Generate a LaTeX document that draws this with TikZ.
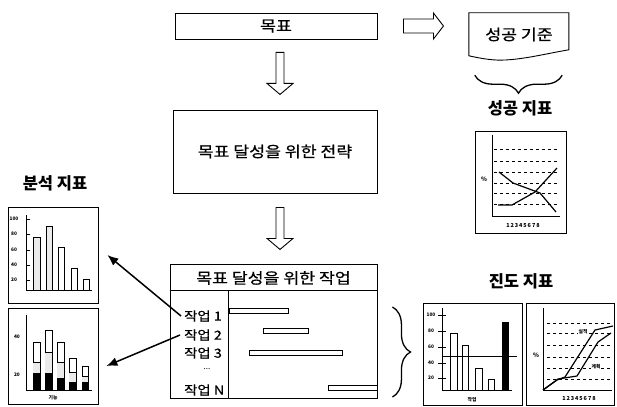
\documentclass[tikz,border=0pt]{standalone}
\usepackage{fontspec}
\setmainfont{Noto Sans CJK KR}
\newfontfamily\boxfont{Noto Sans CJK KR}[FakeStretch=1.15, FakeBold=0.6]
\usetikzlibrary{calc,decorations.pathreplacing,arrows.meta}
\newcommand\fsz[1]{\fontsize{#1}{#1}\selectfont}

\begin{document}
\begin{tikzpicture}[x=1pt,y=-1pt,
  frame/.style={draw, line width=0.9pt, inner sep=0pt},
  chartbox/.style={draw, line width=0.8pt, inner sep=0pt},
  boxtext/.style={font=\boxfont\fsz{15}},
  item/.style={font=\boxfont\fsz{12.5}, anchor=west, inner sep=0pt},
  title/.style={font=\bfseries\fsz{16.5}, inner sep=0pt},
  tiny/.style={font=\bfseries\fsz{4.8}, inner sep=0pt},
  axis/.style={line width=0.7pt},
  bar/.style={draw, line width=0.7pt, fill=white},
  darkbar/.style={draw, line width=0.7pt, fill=black},
  ganttbar/.style={draw, line width=0.8pt, fill=white},
  gridline/.style={line width=0.6pt, dash pattern=on 3pt off 3pt},
  curve/.style={line width=1.2pt},
  leftarr/.style={line width=1.5pt, -{Latex[length=11pt,width=9pt]}},
  bracestyle/.style={decorate, decoration={brace, amplitude=18pt}, line width=1.3pt},
  downblock/.pic={\draw[line width=0.9pt, fill=white]
     (-4,0) -- (4,0) -- (4,31) -- (13,31) -- (0,42) -- (-13,31) -- (-4,31) -- cycle;},
  rightblock/.pic={\draw[line width=0.9pt, fill=white]
     (0,-7) -- (30,-7) -- (30,-13) -- (40,0) -- (30,13) -- (30,7) -- (0,7) -- cycle;},
]
\useasboundingbox (0,0) rectangle (617,406);

% ---------- main flow ----------
\node[frame, boxtext, minimum width=202pt, minimum height=26pt] (goal) at (276,26) {목표};
\node[frame, boxtext, minimum width=204pt, minimum height=83pt] (strat) at (275,151.5) {목표 달성을 위한 전략};
\node[frame, minimum width=207pt, minimum height=134pt] (work) at (273.5,331) {};
\node[boxtext, inner sep=0pt] (worktitle) at (273.5,278) {목표 달성을 위한 작업};
\draw[line width=0.9pt] ($(work.north west)+(0,27)$) -- ($(work.north east)+(0,27)$);
\draw[line width=0.9pt] ($(work.north west)+(59,27)$) -- ($(work.south west)+(59,0)$);

\pic at ($(goal.south)+(4,13)$) {downblock};
\pic at ($(strat.south)+(5,14)$) {downblock};

% task list
\node[item] (t1) at (184,316) {작업 1};
\node[item] (t2) at (184,335) {작업 2};
\node[item] (t3) at (184,353) {작업 3};
\node[font=\fsz{8}, inner sep=0pt] (tdots) at (207,369) {...};
\node[item] (tN) at (184,390) {작업 N};

% schedule bars
\draw[ganttbar] (229,308) rectangle (288,313);
\draw[ganttbar] (263,328) rectangle (308,333);
\draw[ganttbar] (249,350) rectangle (342,355);
\draw[ganttbar] (328,385) rectangle (377,390);

% ---------- success criteria ----------
\node[inner sep=0pt, minimum width=100pt, minimum height=43pt, boxtext] (crit) at (519,34.5) {성공 기준};
\begin{scope}[shift={(crit.north west)}]
  \draw[line width=0.9pt] (0,0) -- (100,0) -- (100,37)
     .. controls (76,41) and (46,49) .. (24,47)
     .. controls (13,46) and (5,44) .. (0,43) -- cycle;
\end{scope}
\pic at ($(goal.east)+(26,0)$) {rightblock};
\draw[bracestyle] ($(crit.south east)+(-7,19)$) -- ($(crit.south west)+(6,19)$);
\draw[bracestyle] ($(work.east)+(15,-24)$) -- ($(work.east)+(15,66)$);

% ---------- titles ----------
\node[title] (ttlA) at (55,183) {분석 지표};
\node[title] (ttlS) at (520,108) {성공 지표};
\node[title] (ttlP) at (521,281) {진도 지표};

% ---------- chart frames ----------
\node[chartbox, minimum width=90pt, minimum height=96pt] (ana1) at (53,255) {};
\node[chartbox, minimum width=90pt, minimum height=96pt] (ana2) at (53,356) {};
\node[chartbox, minimum width=91pt, minimum height=102pt] (succ) at (520.5,182) {};
\node[chartbox, minimum width=99pt, minimum height=102pt] (prog1) at (472.5,354) {};
\node[chartbox, minimum width=88pt, minimum height=102pt] (prog2) at (570,354) {};

% task-to-analysis arrows
\draw[leftarr] ([xshift=-3pt]t1.west) -- ([xshift=9pt]ana1.east);
\draw[leftarr] ([xshift=-4pt]t2.west) -- ([xshift=8pt,yshift=-10pt]ana2.east);

% ---------- analysis chart 1 ----------
\draw[axis] (26,215) -- (26,290) -- (92,290);
\foreach \yy/\lab in {219/100,234/80,250/60,265/40,280/20}{
  \draw[axis] (26,\yy) -- (30,\yy);
  \node[tiny] (aA\lab) at (14,\yy) {\lab};
}
\draw[bar, fill=black!8] (33,237) rectangle (40,290);
\draw[bar, fill=black!8] (46,226) rectangle (52,290);
\draw[bar] (58,247) rectangle (64,290);
\draw[bar] (71,268) rectangle (77,290);
\draw[bar] (83,279) rectangle (89,290);

% ---------- analysis chart 2 ----------
\draw[axis] (26,315) -- (26,390) -- (92,390);
\node[tiny] (aB40) at (17,337) {40};
\node[tiny] (aB20) at (17,375) {20};
\node[tiny] (aBx) at (53,398) {기능};
\foreach \xa/\xb/\ytop/\ymid/\ydark in {33/40/342/362/373, 45/52/330/352/373, 57/64/342/362/378, 69/76/358/372/382, 82/88/366/376/382}{
  \draw[bar] (\xa,\ytop) rectangle (\xb,390);
  \fill[black!8] (\xa,\ymid) rectangle (\xb,\ydark);
  \draw[axis] (\xa,\ymid) -- (\xb,\ymid);
  \draw[darkbar] (\xa,\ydark) rectangle (\xb,390);
}

% ---------- success chart ----------
\draw[axis] (492,135) -- (492,216) -- (560,216);
\foreach \yy in {149,161,172,183,193,204}{
  \draw[gridline] (494,\yy) -- (558,\yy);
}
\node[font=\bfseries\fsz{6}, inner sep=0pt] (sPct) at (484,179) {\%};
\draw[curve] (499,172) -- (513,183) -- (540,193) -- (556,212);
\draw[curve] (498,205) -- (512,205) -- (535,192) -- (557,168);
\node[font=\bfseries\fsz{5.5}, inner sep=0pt] (sNum) at (523,226) {1\,2\,3\,4\,5\,6\,7\,8};

% ---------- progress chart 1 ----------
\draw[axis] (442,308) -- (442,390) -- (512,390);
\foreach \yy/\lab in {315/100,331/80,347/60,363/40,378/20}{
  \draw[axis] (438,\yy) -- (446,\yy);
  \node[tiny] (pA\lab) at (431,\yy) {\lab};
}
\draw[bar] (450,333) rectangle (457,390);
\draw[bar] (462,345) rectangle (468,390);
\draw[bar] (475,368) rectangle (482,390);
\draw[bar] (488,379) rectangle (494,390);
\draw[darkbar] (502,322) rectangle (508,390);
\draw[axis] (442,356) -- (517,356);
\node[tiny] (pAx) at (472,400) {작업};

% ---------- progress chart 2 ----------
\draw[axis] (543,308) -- (543,390) -- (612,390);
\foreach \yy in {323,333,345,357,368,379}{
  \draw[gridline] (547,\yy) -- (610,\yy);
}
\node[font=\bfseries\fsz{6}, inner sep=0pt] (pPct) at (536,355) {\%};
\draw[curve] (543,390) -- (557,380) -- (565,377) -- (595,330) -- (613,326);
\draw[curve] (543,390) -- (558,379) -- (577,376) -- (598,342) -- (611,333);
\node[tiny, fill=white, inner sep=0.8pt] (pAct) at (583,332) {실적};
\node[tiny, fill=white, inner sep=0.8pt] (pPlan) at (596,367) {계획};
\node[font=\bfseries\fsz{5.5}, inner sep=0pt] (pNum) at (579,398) {1\,2\,3\,4\,5\,6\,7\,8};

\end{tikzpicture}
\end{document}
